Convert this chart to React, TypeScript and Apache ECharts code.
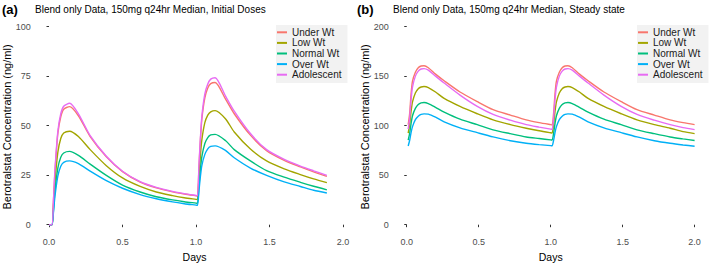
import React, { useEffect, useRef } from 'react';
import * as echarts from 'echarts';

const seriesNames = ['Under Wt', 'Low Wt', 'Normal Wt', 'Over Wt', 'Adolescent'];
const seriesColors = ['#F8766D', '#A3A500', '#00BF7D', '#00B0F6', '#E76BF3'];

// Panel (a): initial doses
const timesA = [0, 0.02, 0.03, 0.04, 0.06, 0.08, 0.10, 0.14, 0.2, 0.28, 0.39, 0.5, 0.62, 0.73, 0.84, 0.92, 1.0,
  1.01, 1.02, 1.03, 1.04, 1.06, 1.08, 1.10, 1.13, 1.2, 1.26, 1.37, 1.48, 1.6, 1.71, 1.8, 1.89];
const underA = [0, 0, 11.5, 26, 46, 54.5, 58.3, 59.6, 55, 44.5, 34.3, 26.8, 21.5, 18.6, 16.6, 15.5, 14.6,
  14.5, 29, 43, 53.5, 64, 69, 71.2, 71.8, 63.5, 56, 45.2, 37.4, 32.5, 29.2, 26.7, 24.4];
const lowA = [0, 0, 9, 21, 36.5, 43.5, 46.3, 47.2, 44.5, 37.9, 29.8, 23.6, 19.3, 16.5, 14.7, 13.6, 12.8,
  12.7, 24, 35, 43, 51.5, 55.3, 57, 57.6, 53.5, 46.8, 38.2, 32.2, 28.2, 25.3, 23.1, 21.2];
const normalA = [0, 0, 7, 16.5, 28.5, 34, 36.2, 37, 35, 30.6, 24.9, 20, 16.5, 14.1, 12.5, 11.6, 10.9,
  10.8, 19.5, 28, 34.5, 41, 44, 45.3, 45.6, 42.5, 37.9, 32.2, 27.3, 24, 21.4, 19.4, 17.6];
const overA = [0, 0, 6, 14, 24.5, 29.5, 31.5, 32.2, 30.8, 27, 22.2, 18.4, 15.2, 13.1, 11.5, 10.6, 9.9,
  9.8, 17, 24.5, 30, 35.5, 38.3, 39.5, 39.8, 37.5, 33.8, 28.6, 24.9, 21.6, 19.3, 17.4, 16];
const adolA = [0, 0, 12, 27, 47, 56, 59.8, 61.3, 56, 45, 34.6, 27, 21.7, 18.8, 16.8, 15.7, 14.8,
  14.7, 30, 44, 55, 66, 71, 73.5, 74.2, 65, 57.3, 46, 37.9, 33, 29.6, 27.2, 24.9];

// Panel (b): steady state
const timesB = [0.01, 0.02, 0.03, 0.04, 0.06, 0.08, 0.10, 0.12, 0.15, 0.2, 0.26, 0.37, 0.49, 0.6, 0.72, 0.83, 0.92, 1.0,
  1.01, 1.02, 1.03, 1.04, 1.06, 1.08, 1.10, 1.12, 1.15, 1.2, 1.26, 1.37, 1.49, 1.6, 1.72, 1.83, 1.92, 2.0];
const underB = [101, 112, 132, 145, 154, 158.5, 160.2, 160.5, 158.5, 152, 145.3, 134, 124.3, 116.2, 110.7, 105.8, 103, 101,
  100.8, 112, 132, 145, 154, 158.5, 160.2, 160.5, 158.5, 152, 145.3, 134, 124.3, 116.2, 110.7, 105.8, 103, 101];
const lowB = [92.5, 101, 114, 124, 133, 137.3, 139, 139.5, 138.5, 134, 127.5, 119.4, 112, 105.8, 101, 97.4, 94.8, 92.8,
  92.6, 101, 114, 124, 133, 137.3, 139, 139.5, 138.5, 134, 127.5, 119.4, 112, 105.8, 101, 97.4, 94, 92];
const normalB = [85.4, 92, 102, 110, 117.5, 121.3, 123, 123.3, 122.3, 118.5, 113.6, 106.5, 101, 95.8, 91.9, 88.6, 87, 85.6,
  85.4, 92, 102, 110, 117.5, 121.3, 123, 123.3, 122.3, 118.5, 113.6, 106.5, 101, 95.8, 91.9, 88.6, 86.6, 85];
const overB = [79.5, 85, 93, 99, 106, 109.5, 111.3, 111.9, 111.6, 108.5, 103.9, 97.8, 92.9, 88.6, 84.8, 82.2, 80.8, 79.8,
  79.6, 85, 93, 99, 106, 109.5, 111.3, 111.9, 111.6, 108.5, 103.9, 97.8, 92.9, 88.6, 84.8, 82.2, 80.5, 79.2];
const adolB = [96.5, 107, 126, 139, 150, 155, 157.2, 157.6, 156, 150, 143, 130.8, 119.4, 111.3, 105.5, 101, 98.5, 96.5,
  96.3, 107, 126, 139, 150, 155, 157.2, 157.6, 156, 150, 143, 130.8, 119.4, 111.3, 105.5, 101, 98, 96];

const xTicks = [0, 0.5, 1, 1.5, 2];
const yTicksA = [0, 25, 50, 75, 100];
const yTicksB = [0, 50, 100, 150, 200];

const titleA = 'Blend only Data, 150mg q24hr Median, Initial Doses';
const titleB = 'Blend only Data, 150mg q24hr Median, Steady state';
const yTitle = 'Berotralstat Concentration (ng/ml)';

const FONT = '"Liberation Sans", Arial, sans-serif';

export default function App() {
  const ref = useRef<HTMLDivElement>(null);
  useEffect(() => {
    document.body.style.margin = '0';
    const chart = echarts.init(ref.current!, null, { renderer: 'svg' });

    const seriesA = [underA, lowA, normalA, overA, adolA];
    const seriesB = [underB, lowB, normalB, overB, adolB];

    const mkX = (gridIndex: number, min: number, max: number) => ({
      type: 'value', gridIndex, min, max,
      axisLine: { show: false },
      splitLine: { show: false },
      axisTick: { show: true, customValues: xTicks, length: 2.5, lineStyle: { color: '#333333', width: 1 } },
      axisLabel: { customValues: xTicks, formatter: (v: number) => v.toFixed(1), color: '#4d4d4d', fontSize: 9, margin: 2.5, fontFamily: FONT },
      name: 'Days', nameLocation: 'middle', nameGap: 11,
      nameTextStyle: { color: '#000', fontSize: 10.5, fontFamily: FONT },
    });
    const mkY = (gridIndex: number, min: number, max: number, ticks: number[]) => ({
      type: 'value', gridIndex, min, max,
      axisLine: { show: false },
      splitLine: { show: false },
      axisTick: { show: true, customValues: ticks, length: 2.5, lineStyle: { color: '#333333', width: 1 } },
      axisLabel: { customValues: ticks, color: '#4d4d4d', fontSize: 9, margin: 3.5, fontFamily: FONT },
    });
    const mkLegend = (left: number) => ({
      left, top: 25, orient: 'vertical', data: seriesNames, icon: 'rect',
      itemWidth: 10, itemHeight: 2, itemGap: 0,
      textStyle: { fontSize: 10, lineHeight: 10.6, color: '#1a1a1a', fontFamily: FONT },
      backgroundColor: '#f2f2f2', padding: [2, 6, 3, 1], selectedMode: false,
    });

    const series: any[] = [];
    seriesA.forEach((arr, i) => series.push({
      type: 'line', name: seriesNames[i], xAxisIndex: 0, yAxisIndex: 0,
      data: timesA.map((t, j) => [t, arr[j]]), showSymbol: false, smooth: 0.25,
      lineStyle: { color: seriesColors[i], width: 1.4 }, itemStyle: { color: seriesColors[i] },
    }));
    seriesB.forEach((arr, i) => series.push({
      type: 'line', name: seriesNames[i], xAxisIndex: 1, yAxisIndex: 1,
      data: timesB.map((t, j) => [t, arr[j]]), showSymbol: false, smooth: 0.25,
      lineStyle: { color: seriesColors[i], width: 1.4 }, itemStyle: { color: seriesColors[i] },
    }));

    chart.setOption({
      animation: false,
      backgroundColor: '#ffffff',
      grid: [
        { left: 34.3, top: 16.7, width: 320.5, height: 226.6 },
        { left: 392.35, top: 16.7, width: 322.3, height: 226.6 },
      ],
      xAxis: [mkX(0, -0.1, 2.08), mkX(1, -0.1, 2.1)],
      yAxis: [mkY(0, -5, 105, yTicksA), mkY(1, -10, 210, yTicksB)],
      legend: [mkLegend(276), mkLegend(637)],
      series,
      graphic: [
        { type: 'text', x: 2, y: 9, style: { text: '(a)', font: `bold 13px ${FONT}`, fill: '#000', textVerticalAlign: 'middle' } },
        { type: 'text', x: 35, y: 9, style: { text: titleA, font: `10px ${FONT}`, fill: '#000', textVerticalAlign: 'middle' } },
        { type: 'text', x: 357, y: 9, style: { text: '(b)', font: `bold 13px ${FONT}`, fill: '#000', textVerticalAlign: 'middle' } },
        { type: 'text', x: 393, y: 9, style: { text: titleB, font: `10px ${FONT}`, fill: '#000', textVerticalAlign: 'middle' } },
        { type: 'text', x: 6.5, y: 127, rotation: Math.PI / 2, style: { text: yTitle, font: `11px ${FONT}`, fill: '#000', textAlign: 'center', textVerticalAlign: 'middle' } },
        { type: 'text', x: 364.5, y: 127, rotation: Math.PI / 2, style: { text: yTitle, font: `11px ${FONT}`, fill: '#000', textAlign: 'center', textVerticalAlign: 'middle' } },
      ],
    });
    return () => chart.dispose();
  }, []);
  return <div ref={ref} style={{ width: 709, height: 267 }} />;
}
